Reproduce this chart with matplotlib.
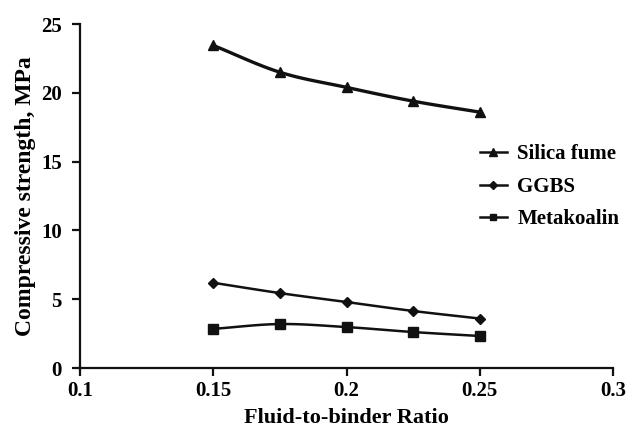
import numpy as np
import matplotlib
matplotlib.use("Agg")
import matplotlib.pyplot as plt
from matplotlib.lines import Line2D

# Fluid-to-binder ratios and compressive strengths (MPa)
ratio = [0.15, 0.175, 0.2, 0.225, 0.25]
silica_fume = [23.45, 21.5, 20.4, 19.4, 18.6]
ggbs = [6.2, 5.45, 4.8, 4.15, 3.6]
metakoalin = [2.85, 3.2, 2.98, 2.62, 2.33]

x_ticks = [0.1, 0.15, 0.2, 0.25, 0.3]
x_tick_labels = ["0.1", "0.15", "0.2", "0.25", "0.3"]
y_ticks = [0, 5, 10, 15, 20, 25]


def smooth_curve(xs, ys, n=30):
    """Catmull-Rom spline through the points, like a smoothed line chart."""
    xs = np.asarray(xs, float)
    ys = np.asarray(ys, float)
    px = np.concatenate([[2 * xs[0] - xs[1]], xs, [2 * xs[-1] - xs[-2]]])
    py = np.concatenate([[2 * ys[0] - ys[1]], ys, [2 * ys[-1] - ys[-2]]])
    out_x, out_y = [], []
    t = np.linspace(0, 1, n)
    for i in range(1, len(px) - 2):
        for arr, out in ((px, out_x), (py, out_y)):
            p0, p1, p2, p3 = arr[i - 1], arr[i], arr[i + 1], arr[i + 2]
            seg = 0.5 * ((2 * p1) + (-p0 + p2) * t
                         + (2 * p0 - 5 * p1 + 4 * p2 - p3) * t ** 2
                         + (-p0 + 3 * p1 - 3 * p2 + p3) * t ** 3)
            out.extend(seg if i == 1 else seg[1:])
    return np.array(out_x), np.array(out_y)


plt.rcParams["font.family"] = ["Liberation Serif", "DejaVu Serif"]
plt.rcParams["font.weight"] = "bold"

fig = plt.figure(figsize=(6.3, 4.3), dpi=100)
ax = fig.add_axes([0.127, 0.144, 0.846, 0.8])

series = [
    ("Silica fume", silica_fume, "^", 7.5),
    ("GGBS", ggbs, "D", 5.5),
    ("Metakoalin", metakoalin, "s", 7),
]
handles = []
for name, vals, mk, ms in series:
    sx, sy = smooth_curve(ratio, vals)
    lw = 2.4 if name == "Silica fume" else 1.8
    ax.plot(sx, sy, color="#111111", lw=lw, solid_capstyle="round")
    ax.plot(ratio, vals, linestyle="none", marker=mk, ms=ms, color="#111111")
    handles.append(Line2D([], [], color="#111111", lw=1.8, marker=mk,
                          ms=ms * 0.7, label=name))

ax.set_xlim(0.1, 0.3)
ax.set_ylim(0, 25)
ax.set_xticks(x_ticks)
ax.set_xticklabels(x_tick_labels)
ax.set_yticks(y_ticks)

for side in ("top", "right"):
    ax.spines[side].set_visible(False)
for side in ("left", "bottom"):
    ax.spines[side].set_linewidth(1.6)
    ax.spines[side].set_color("#111111")
ax.tick_params(direction="out", length=6, width=1.6, color="#111111",
               labelsize=15)
ax.tick_params(axis="x", pad=3)
ax.tick_params(axis="y", pad=7)
for lab in ax.get_xticklabels() + ax.get_yticklabels():
    lab.set_fontweight("bold")

ax.set_xlabel("Fluid-to-binder Ratio", fontsize=16, fontweight="bold", labelpad=5)
ax.set_ylabel("Compressive strength, MPa", fontsize=17, fontweight="bold", labelpad=4)

leg = ax.legend(handles=handles, loc="upper left", bbox_to_anchor=(0.715, 0.705),
                frameon=False, prop={"size": 15, "weight": "bold"},
                handlelength=1.3, handletextpad=0.5, labelspacing=0.6)

fig.savefig("out.png", dpi=100)
